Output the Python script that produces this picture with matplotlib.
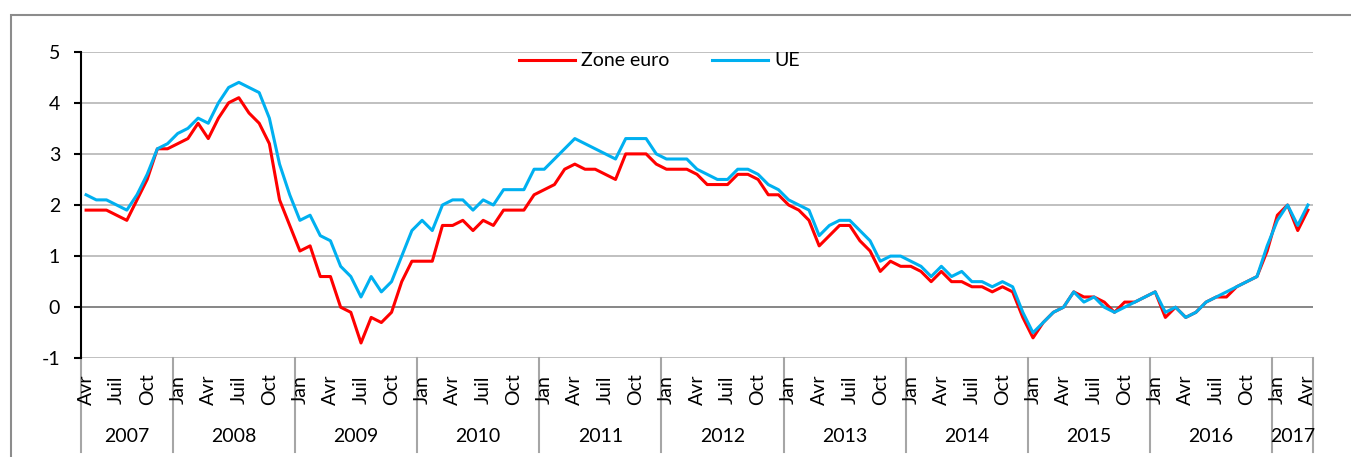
import matplotlib.pyplot as plt
from matplotlib.patches import Rectangle
import numpy as np

plt.rcParams['font.family'] = ['Lato', 'DejaVu Sans']

# taux d'inflation annuel (%), mensuel, avril 2007 -> avril 2017
zone_euro = [1.9, 1.9, 1.9, 1.8, 1.7, 2.1, 2.5, 3.1, 3.1,                      # 2007
             3.2, 3.3, 3.6, 3.3, 3.7, 4.0, 4.1, 3.8, 3.6, 3.2, 2.1, 1.6,        # 2008
             1.1, 1.2, 0.6, 0.6, 0.0, -0.1, -0.7, -0.2, -0.3, -0.1, 0.5, 0.9,   # 2009
             0.9, 0.9, 1.6, 1.6, 1.7, 1.5, 1.7, 1.6, 1.9, 1.9, 1.9, 2.2,        # 2010
             2.3, 2.4, 2.7, 2.8, 2.7, 2.7, 2.6, 2.5, 3.0, 3.0, 3.0, 2.8,        # 2011
             2.7, 2.7, 2.7, 2.6, 2.4, 2.4, 2.4, 2.6, 2.6, 2.5, 2.2, 2.2,        # 2012
             2.0, 1.9, 1.7, 1.2, 1.4, 1.6, 1.6, 1.3, 1.1, 0.7, 0.9, 0.8,        # 2013
             0.8, 0.7, 0.5, 0.7, 0.5, 0.5, 0.4, 0.4, 0.3, 0.4, 0.3, -0.2,       # 2014
             -0.6, -0.3, -0.1, 0.0, 0.3, 0.2, 0.2, 0.1, -0.1, 0.1, 0.1, 0.2,    # 2015
             0.3, -0.2, 0.0, -0.2, -0.1, 0.1, 0.2, 0.2, 0.4, 0.5, 0.6, 1.1,     # 2016
             1.8, 2.0, 1.5, 1.9]                                                # 2017
ue = [2.2, 2.1, 2.1, 2.0, 1.9, 2.2, 2.6, 3.1, 3.2,                             # 2007
      3.4, 3.5, 3.7, 3.6, 4.0, 4.3, 4.4, 4.3, 4.2, 3.7, 2.8, 2.2,               # 2008
      1.7, 1.8, 1.4, 1.3, 0.8, 0.6, 0.2, 0.6, 0.3, 0.5, 1.0, 1.5,               # 2009
      1.7, 1.5, 2.0, 2.1, 2.1, 1.9, 2.1, 2.0, 2.3, 2.3, 2.3, 2.7,               # 2010
      2.7, 2.9, 3.1, 3.3, 3.2, 3.1, 3.0, 2.9, 3.3, 3.3, 3.3, 3.0,               # 2011
      2.9, 2.9, 2.9, 2.7, 2.6, 2.5, 2.5, 2.7, 2.7, 2.6, 2.4, 2.3,               # 2012
      2.1, 2.0, 1.9, 1.4, 1.6, 1.7, 1.7, 1.5, 1.3, 0.9, 1.0, 1.0,               # 2013
      0.9, 0.8, 0.6, 0.8, 0.6, 0.7, 0.5, 0.5, 0.4, 0.5, 0.4, -0.1,              # 2014
      -0.5, -0.3, -0.1, 0.0, 0.3, 0.1, 0.2, 0.0, -0.1, 0.0, 0.1, 0.2,           # 2015
      0.3, -0.1, 0.0, -0.2, -0.1, 0.1, 0.2, 0.3, 0.4, 0.5, 0.6, 1.2,            # 2016
      1.7, 2.0, 1.6, 2.0]                                                       # 2017

start_year, start_month = 2007, 4
month_labels = {1: 'Jan', 4: 'Avr', 7: 'Juil', 10: 'Oct'}
years = list(range(2007, 2018))

n = len(zone_euro)
x = np.arange(n)
# year / month of every point
months = [(start_month - 1 + i) % 12 + 1 for i in range(n)]
point_years = [start_year + (start_month - 1 + i) // 12 for i in range(n)]

W, H = 1351, 457
fig = plt.figure(figsize=(W / 100, H / 100), dpi=100)
ax = fig.add_axes([81 / W, (H - 358.3) / H, 1232 / W, 306.6 / H])

# grey frame of the chart area (cut by the picture on the right / bottom)
fig.patches.append(Rectangle((11 / W, -0.2), 2, 1 - 15 / H + 0.2, transform=fig.transFigure,
                             fill=False, edgecolor='#8c8c8c', lw=1.5))

ax.set_xlim(-0.5, n - 0.5)
ax.set_ylim(-1, 5)

# horizontal gridlines, darker at zero
for yv in range(-1, 6):
    ax.axhline(yv, color='#868686' if yv == 0 else '#c0c0c0', lw=1.4, zorder=1)

ax.plot(x, zone_euro, color='#ff0000', lw=2.2, label='Zone euro', zorder=3)
ax.plot(x, ue, color='#00b0f0', lw=2.2, label='UE', zorder=4)

for s in ['top', 'right', 'bottom']:
    ax.spines[s].set_visible(False)
ax.spines['left'].set_linewidth(1.5)
ax.spines['left'].set_zorder(5)

ax.set_yticks(range(-1, 6))
ax.set_yticklabels([str(v) for v in range(-1, 6)])
ax.tick_params(axis='y', direction='out', length=5, width=1.5, labelsize=14, pad=10)
ax.set_xticks([])

trans = ax.get_xaxis_transform()

# month labels (rotated)
for i in x:
    if months[i] in month_labels:
        ax.text(i, -0.102, month_labels[months[i]], rotation=90, ha='center', va='center',
                fontsize=14, transform=trans, clip_on=False)

# year separators and year labels
bounds = [-0.5] + [i - 0.5 for i in x if months[i] == 1 and i > 0] + [n - 0.5]
for b in bounds:
    ax.plot([b, b], [0, -0.306], color='#a6a6a6', lw=1.5, transform=trans, clip_on=False)
for yr in years:
    idx = [i for i in x if point_years[i] == yr]
    ax.text((idx[0] + idx[-1]) / 2, -0.255, str(yr), ha='center', va='center',
            fontsize=14, transform=trans, clip_on=False)

fig.legend(loc='center', bbox_to_anchor=(0.488, 1 - 61 / H), ncol=2, frameon=False,
           fontsize=14, handlelength=2.9, handletextpad=0.3, columnspacing=2.2)

fig.savefig('out.png', dpi=100)
